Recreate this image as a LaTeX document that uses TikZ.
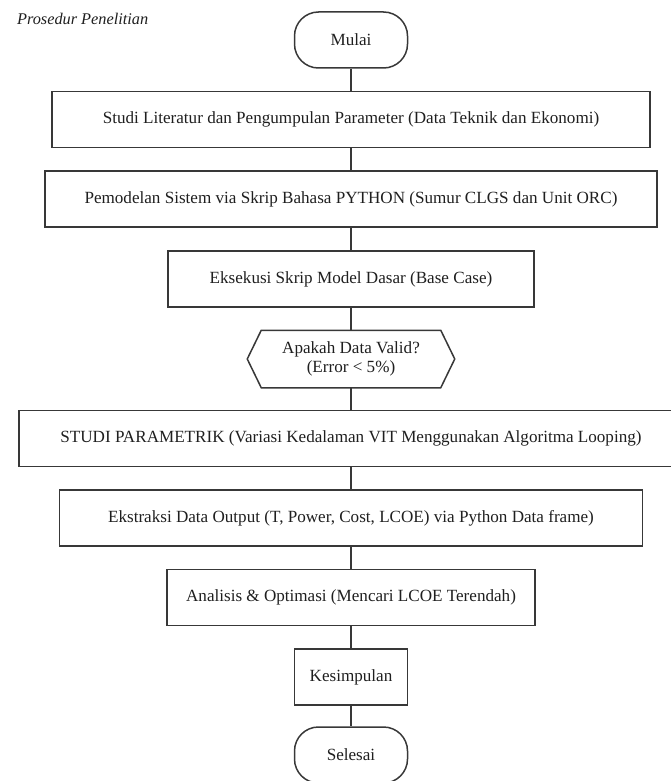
\documentclass[tikz,border=0pt]{standalone}
\usepackage{fontspec}
\setmainfont{Liberation Serif}

\begin{document}
\begin{tikzpicture}[x=1pt, y=-1pt, line width=1.5pt, draw=black!78, text=black!88, font=\fontsize{17.1}{19}\selectfont]
		\tikzstyle{terminal} = [rectangle, draw, rounded corners=24pt, minimum width=113pt, minimum height=56pt, inner sep=0pt]
		\tikzstyle{process} = [rectangle, draw, minimum height=56pt, inner sep=0pt]
		\tikzstyle{decision} = [minimum width=206pt, minimum height=56pt, inner sep=0pt, align=center]
		\tikzstyle{link} = [draw, line width=1.3pt]

		\useasboundingbox (0,0) rectangle (671,781);

		% Title
		\node (title) [anchor=base west, font=\itshape\fontsize{16.3}{19}\selectfont] at (13,25) {Prosedur Penelitian};

		% Start
		\node (start) [terminal] at (351,40) {Mulai};
		% Steps
		\node (lit) [process, minimum width=598pt] at (351,119.5) {Studi Literatur dan Pengumpulan Parameter (Data Teknik dan Ekonomi)};
		\node (model) [process, minimum width=612pt] at (351,199) {Pemodelan Sistem via Skrip Bahasa PYTHON (Sumur CLGS dan Unit ORC)};
		\node (base) [process, minimum width=366pt] at (351,279) {Eksekusi Skrip Model Dasar (Base Case)};
		% Validation
		\node (valid) [decision] at (351,359) {Apakah Data Valid?\\(Error < 5\%)};
		\draw (valid.west) -- ([xshift=14pt]valid.north west) -- ([xshift=-14pt]valid.north east)
			-- (valid.east) -- ([xshift=-14pt]valid.south east) -- ([xshift=14pt]valid.south west) -- cycle;
		% Parametric study
		\node (param) [process, minimum width=664pt] at (351,438.5) {STUDI PARAMETRIK (Variasi Kedalaman VIT Menggunakan Algoritma Looping)};
		\node (extract) [process, minimum width=583pt] at (351,518) {Ekstraksi Data Output (T, Power, Cost, LCOE) via Python Data frame)};
		\node (optim) [process, minimum width=368pt] at (351,597.5) {Analisis \& Optimasi (Mencari LCOE Terendah)};
		\node (concl) [process, minimum width=113pt] at (351,677) {Kesimpulan};
		% End
		\node (finish) [terminal] at (351,755) {Selesai};

		\draw[link] (start) -- (lit);
		\draw[link] (lit) -- (model);
		\draw[link] (model) -- (base);
		\draw[link] (base) -- (valid.north);
		\draw[link] (valid.south) -- (param);
		\draw[link] (param) -- (extract);
		\draw[link] (extract) -- (optim);
		\draw[link] (optim) -- (concl);
		\draw[link] (concl) -- (finish);
	\end{tikzpicture}
\end{document}
